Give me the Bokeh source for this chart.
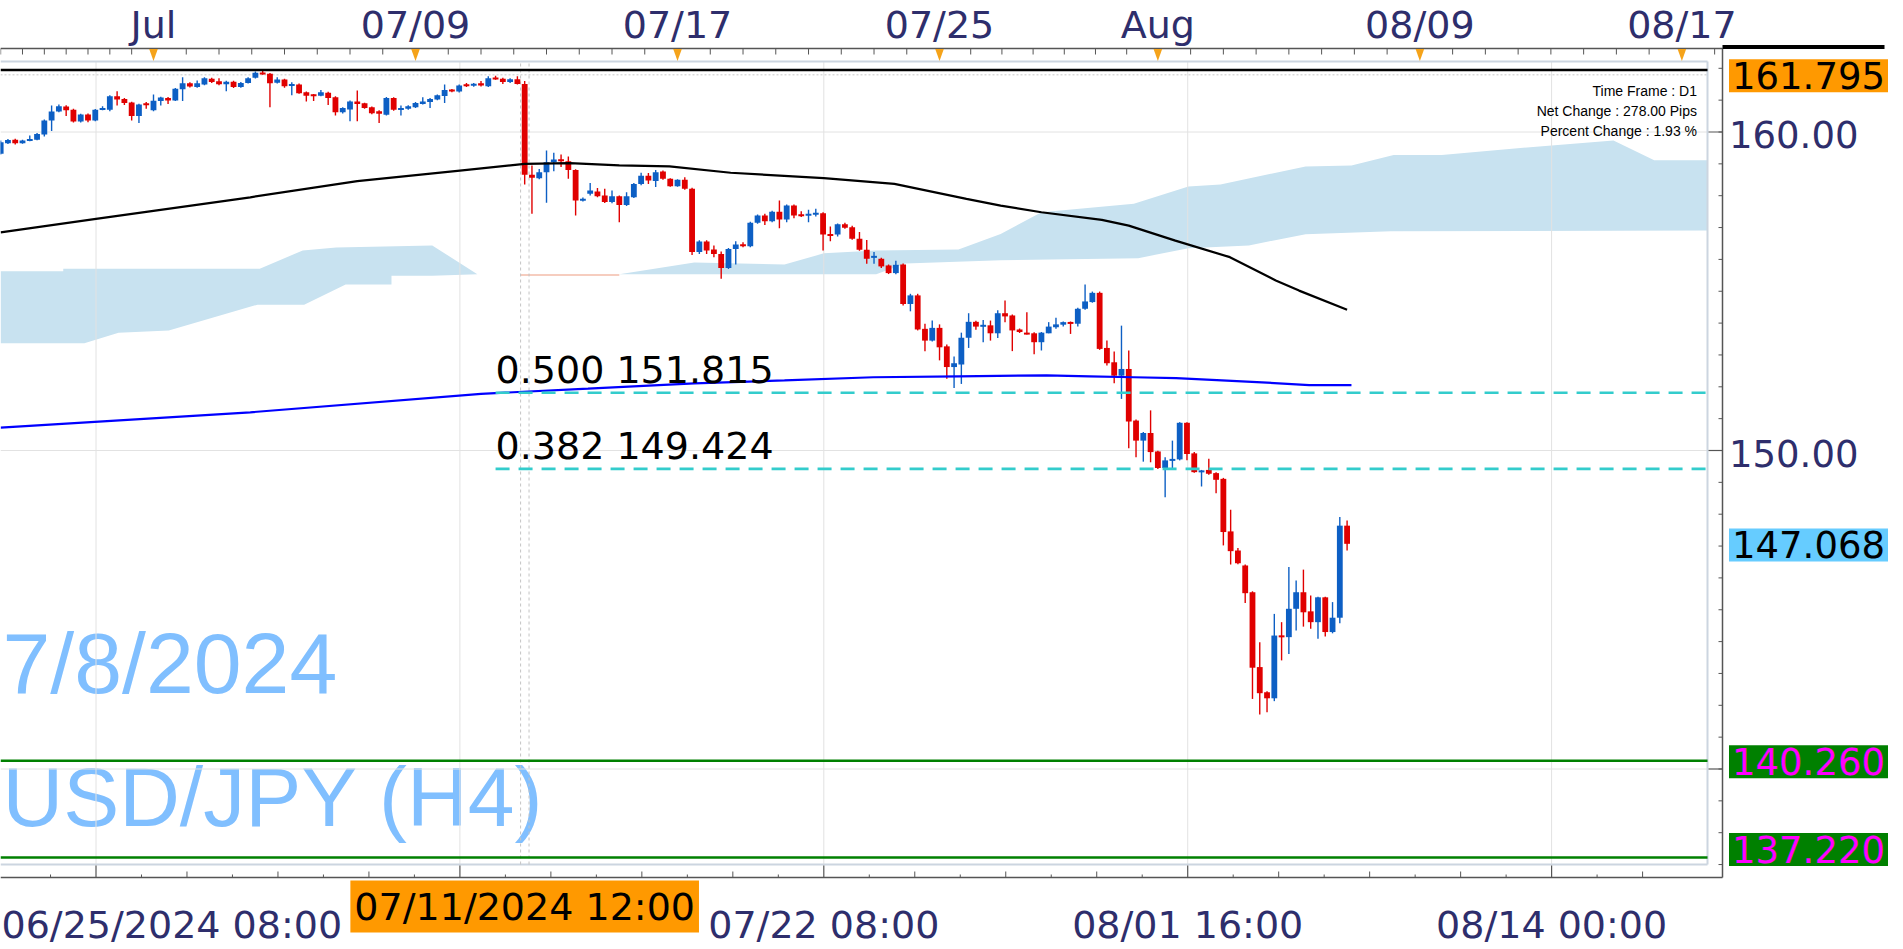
import numpy as np
from bokeh.plotting import figure
from bokeh.models import Range1d, Label, ColumnDataSource
from bokeh.embed import file_html
from bokeh.resources import INLINE

# ---------------- data ----------------
start_index = -21          # bar index of first candle (index 0 = Jul 1 00:00, H4 bars)
opens = [159.32, 159.65, 159.76, 159.65, 159.73, 159.76, 159.92, 160.36, 160.64, 160.80, 160.70, 160.33, 160.55, 160.36, 160.70, 160.70, 161.12, 161.04, 160.93, 160.50, 160.89,
         160.68, 160.97, 161.07, 160.99, 161.34, 161.53, 161.41, 161.49, 161.67, 161.59,
         161.50, 161.58, 161.41, 161.54, 161.70, 161.86, 161.83, 161.55, 161.65, 161.46,
         161.49, 161.25, 161.17, 161.14, 161.23, 161.09, 160.62, 160.71, 160.96, 160.90,
         160.78, 160.65, 160.54, 161.07, 160.70, 160.73, 160.78, 160.88, 160.94, 161.02,
         161.13, 161.32, 161.27, 161.48, 161.46, 161.53, 161.44, 161.69, 161.67, 161.57,
         161.66, 161.51, 158.66, 158.55, 158.74, 159.05, 159.14, 159.08, 158.81, 157.85,
         158.06, 158.13, 158.01, 157.80, 157.98, 157.71, 157.95, 158.37, 158.63, 158.46,
         158.76, 158.53, 158.30, 158.50, 158.22, 156.23, 156.56, 156.31, 156.17, 155.73,
         156.33, 156.46, 156.41, 157.15, 157.38, 157.20, 157.50, 157.25, 157.69, 157.41,
         157.38, 157.41, 157.45, 156.78, 156.78, 157.10, 157.01, 156.65, 156.30, 156.05,
         156.02, 155.81, 155.57, 155.84, 154.60, 154.87, 153.82, 153.45, 153.85, 153.27,
         152.62, 152.70, 153.54, 154.04, 153.90, 153.93, 153.68, 154.31, 154.24, 153.80,
         153.68, 153.68, 153.40, 153.68, 153.87, 153.95, 154.03, 153.98, 154.45, 154.66,
         154.95, 153.22, 152.77, 152.35, 152.56, 150.94, 150.31, 150.55, 149.97, 149.45,
         149.69, 149.72, 150.87, 149.91, 149.32, 149.39, 149.29, 149.11, 147.46, 146.86,
         146.39, 145.55, 143.20, 142.41, 142.22, 144.19, 144.14, 145.03, 145.55, 144.95,
         144.61, 145.39, 144.30, 144.75, 147.64]
highs = [159.73, 159.78, 159.79, 159.76, 159.89, 159.97, 160.39, 160.83, 160.86, 160.84, 160.73, 160.57, 160.58, 160.72, 160.81, 161.15, 161.28, 161.07, 160.95, 160.89, 160.94,
         161.18, 161.11, 161.10, 161.38, 161.72, 161.56, 161.62, 161.72, 161.70, 161.69,
         161.61, 161.61, 161.57, 161.72, 161.90, 161.93, 161.85, 161.72, 161.67, 161.56,
         161.52, 161.27, 161.19, 161.32, 161.26, 161.12, 160.78, 160.99, 161.30, 160.92,
         160.80, 160.68, 161.10, 161.09, 160.83, 160.84, 160.94, 161.09, 161.07, 161.18,
         161.49, 161.35, 161.49, 161.54, 161.54, 161.60, 161.75, 161.77, 161.70, 161.69,
         161.75, 161.60, 158.95, 158.84, 159.42, 159.35, 159.29, 159.23, 158.83, 157.94,
         158.40, 158.24, 158.22, 158.16, 158.01, 158.11, 158.40, 158.72, 158.71, 158.81,
         158.79, 158.55, 158.52, 158.58, 158.25, 156.60, 156.60, 156.44, 156.25, 156.36,
         156.57, 156.54, 157.18, 157.41, 157.43, 157.53, 157.85, 157.72, 157.72, 157.51,
         157.56, 157.59, 157.48, 157.03, 157.13, 157.15, 157.06, 156.86, 156.61, 156.23,
         156.05, 155.84, 155.96, 155.87, 154.92, 154.92, 153.98, 154.08, 153.96, 153.33,
         152.95, 153.70, 154.31, 154.07, 154.10, 154.08, 154.40, 154.71, 154.27, 153.83,
         154.34, 153.71, 153.72, 154.03, 154.17, 154.05, 154.05, 154.48, 155.21, 154.99,
         154.99, 153.45, 153.11, 153.92, 153.14, 150.97, 150.58, 151.26, 149.99, 149.79,
         150.31, 150.89, 150.89, 149.95, 149.39, 149.74, 149.32, 149.14, 148.14, 146.94,
         146.42, 145.58, 143.98, 142.44, 144.87, 144.61, 146.34, 145.92, 146.26, 145.45,
         145.41, 145.41, 145.24, 147.91, 147.80]
lows = [159.29, 159.62, 159.61, 159.63, 159.71, 159.74, 159.86, 160.03, 160.62, 160.50, 160.30, 160.30, 160.31, 160.34, 160.68, 160.65, 160.83, 160.85, 160.36, 160.28, 160.73,
        160.65, 160.83, 160.88, 160.97, 160.97, 161.40, 161.39, 161.47, 161.54, 161.47,
        161.28, 161.38, 161.39, 161.52, 161.68, 161.80, 160.78, 161.52, 161.39, 161.15,
        161.20, 160.96, 160.97, 161.12, 160.85, 160.52, 160.58, 160.34, 160.34, 160.73,
        160.56, 160.28, 160.52, 160.67, 160.52, 160.70, 160.75, 160.86, 160.75, 161.00,
        160.91, 161.25, 161.24, 161.41, 161.42, 161.43, 161.41, 161.64, 161.51, 161.54,
        161.49, 158.35, 157.43, 158.52, 157.78, 158.77, 158.90, 158.53, 157.38, 157.82,
        158.01, 157.95, 157.77, 157.76, 157.17, 157.68, 157.93, 158.33, 158.37, 158.27,
        158.50, 158.28, 158.28, 158.19, 156.14, 156.17, 156.17, 156.07, 155.39, 155.70,
        155.84, 156.38, 156.38, 157.12, 157.08, 157.17, 156.98, 157.17, 157.29, 157.33,
        157.17, 157.35, 156.28, 156.57, 156.72, 156.96, 156.62, 156.27, 155.86, 155.86,
        155.73, 155.54, 155.53, 154.55, 154.37, 153.77, 153.12, 153.42, 152.83, 152.25,
        151.96, 152.09, 153.22, 153.79, 153.40, 153.45, 153.53, 154.03, 153.12, 153.69,
        153.64, 153.02, 153.14, 153.68, 153.82, 153.89, 153.66, 153.89, 154.42, 154.64,
        153.16, 152.67, 152.11, 151.62, 150.07, 149.79, 149.65, 149.63, 149.42, 148.53,
        149.45, 149.69, 149.69, 149.30, 148.87, 149.24, 148.66, 147.02, 146.42, 146.43,
        145.21, 142.20, 141.71, 141.78, 142.13, 143.41, 143.61, 144.35, 144.47, 144.40,
        144.09, 144.16, 144.26, 144.58, 146.86]
closes = [159.68, 159.75, 159.65, 159.73, 159.77, 159.94, 160.36, 160.64, 160.81, 160.68, 160.33, 160.55, 160.36, 160.70, 160.75, 161.12, 161.02, 160.91, 160.50, 160.86, 160.85,
          160.98, 161.08, 160.99, 161.36, 161.53, 161.43, 161.53, 161.69, 161.57, 161.50,
          161.58, 161.41, 161.54, 161.69, 161.86, 161.82, 161.53, 161.65, 161.44, 161.49,
          161.22, 161.14, 161.14, 161.25, 161.07, 160.62, 160.75, 160.96, 160.88, 160.75,
          160.59, 160.57, 161.07, 160.70, 160.75, 160.81, 160.91, 160.96, 161.04, 161.15,
          161.32, 161.28, 161.46, 161.46, 161.51, 161.46, 161.69, 161.67, 161.57, 161.66,
          161.51, 158.66, 158.56, 158.74, 159.05, 159.14, 159.08, 158.81, 157.85, 157.90,
          158.16, 157.98, 157.80, 157.98, 157.71, 157.98, 158.37, 158.63, 158.48, 158.74,
          158.53, 158.30, 158.50, 158.22, 156.23, 156.56, 156.28, 156.17, 155.73, 156.33,
          156.47, 156.43, 157.15, 157.38, 157.20, 157.50, 157.25, 157.69, 157.38, 157.36,
          157.43, 157.45, 156.78, 156.75, 157.10, 156.99, 156.65, 156.30, 156.02, 156.11,
          155.78, 155.57, 155.83, 154.60, 154.87, 153.80, 153.45, 153.85, 153.24, 152.62,
          152.74, 153.54, 154.04, 153.89, 153.93, 153.68, 154.31, 154.21, 153.77, 153.72,
          153.66, 153.40, 153.70, 153.89, 153.96, 154.03, 153.98, 154.45, 154.68, 154.95,
          153.19, 152.74, 152.35, 152.56, 150.91, 150.31, 150.55, 149.95, 149.45, 149.69,
          149.72, 150.87, 149.89, 149.32, 149.37, 149.27, 149.08, 147.44, 146.84, 146.46,
          145.52, 143.18, 142.38, 142.22, 144.19, 144.14, 145.03, 145.55, 144.92, 144.61,
          145.39, 144.30, 144.75, 147.64, 147.07]

# moving averages (knots)
ma_black_x = [-21.0, -7.9, 13.3, 28.0, 42.1, 51.0, 57.2, 64.0, 70.9, 79.3, 92.1, 101.8, 111.7, 116.4, 122.0, 130.3, 134.0, 140.4, 147.9, 151.1, 154.2, 157.4, 164.0]
ma_black_y = [156.85, 157.27, 157.95, 158.46, 158.79, 159.00, 159.02, 158.95, 158.92, 158.72, 158.55, 158.37, 157.90, 157.69, 157.48, 157.24, 157.06, 156.59, 156.07, 155.70, 155.34, 155.02, 154.42]
ma_blue_x = [-21.0, 13.3, 45.0, 59.7, 74.3, 86.7, 98.9, 110.6, 122.7, 128.6, 134.7, 140.5, 146.1, 152.3, 158.8, 164.6]
ma_blue_y = [150.72, 151.20, 151.78, 151.94, 152.11, 152.20, 152.30, 152.33, 152.36, 152.33, 152.30, 152.27, 152.21, 152.14, 152.05, 152.05]

# ichimoku cloud edges
cloud_top_x = [-21.0, -12.4, -12.4, 14.6, 20.5, 25.1, 38.3, 44.5, 64.0, 74.3, 86.7, 92.1, 99.3, 110.6, 116.4, 122.0, 134.7, 142.2, 146.6, 158.3, 164.6, 170.4, 177.0, 192.1, 200.6, 206.2, 213.5]
cloud_top_y = [155.63, 155.63, 155.71, 155.71, 156.28, 156.37, 156.44, 155.53, 155.53, 155.90, 155.84, 156.19, 156.28, 156.31, 156.80, 157.48, 157.75, 158.29, 158.35, 158.92, 158.95, 159.28, 159.28, 159.58, 159.73, 159.11, 159.11]
cloud_bot_x = [-21.0, -9.5, -4.8, 2.1, 14.3, 20.7, 26.4, 32.7, 32.7, 38.3, 44.5, 99.3, 103.3, 116.4, 135.3, 142.2, 150.5, 158.3, 170.0, 213.5]
cloud_bot_y = [153.37, 153.37, 153.70, 153.77, 154.58, 154.58, 155.21, 155.21, 155.49, 155.49, 155.53, 155.53, 155.87, 155.97, 156.04, 156.35, 156.44, 156.79, 156.88, 156.91]
sliver_x = [50.4, 64.0]
sliver_y = [155.51, 155.51]

# fibonacci retracement
fib_high = 161.948
fib_start = 47.0
fib_levels = [151.815, 149.424]
fib_labels = ["0.500 151.815", "0.382 149.424"]

# horizontal price markers
green_levels = [140.260, 137.220]
dotted_level = 161.795
marker_prices = [161.795, 147.068, 140.260, 137.220]
marker_texts = ["161.795", "147.068", "140.260", "137.220"]
marker_bg = ["#ff9900", "#66ccff", "#008000", "#008000"]
marker_fg = ["#000000", "#000000", "#ff00ff", "#ff00ff"]

# axes
price_ticks = [150, 160]
price_tick_labels = ["150.00", "160.00"]
top_ticks = [0, 36, 72, 108, 138, 174, 210]
top_labels = ["Jul", "07/09", "07/17", "07/25", "Aug", "08/09", "08/17"]
grid_x = [-7.9, 42.1, 92.1, 142.1, 192.1]
grid_y = [140, 150, 160]
bottom_labels = ["06/25/2024 08:00", "", "07/22 08:00", "08/01 16:00", "08/14 00:00"]
cross_index = 51
cross_label = "07/11/2024 12:00"
info_lines = ["Time Frame : D1", "Net Change : 278.00 Pips", "Percent Change : 1.93 %"]
watermark = ["7/8/2024", "USD/JPY (H4)"]

# ---------------- layout calibration (pixels of the picture) ----------------
W, H = 1903, 949
BAR_PX = 7.278
X0_PX = 153.0
YEN_PX = 31.85
Y160_PX = 131.5

def rx(px):
    return (px - X0_PX) / BAR_PX

def ry(py):
    return 160.0 - (py - Y160_PX) / YEN_PX

AX_R, AX_T, AX_B = 1722, 48, 877          # axis lines
INNER_R, INNER_T, INNER_B = 1707, 61, 864  # light inner frame
LEFT = rx(0)

NAVY = "#2e2e6c"
BLUE = "#0d5fc4"
RED = "#e00000"
AXIS_C = "#555555"
WM_FONT = "Liberation Sans"

p = figure(width=W, height=H,
           x_range=Range1d(rx(0), rx(W)), y_range=Range1d(ry(H), ry(0)),
           x_axis_type=None, y_axis_type=None,
           toolbar_location=None, output_backend="svg", min_border=0)
p.min_border_left = p.min_border_right = p.min_border_top = p.min_border_bottom = 0
p.outline_line_color = None
p.background_fill_color = "white"
p.border_fill_color = "white"

# watermark
p.add_layout(Label(x=rx(2), y=ry(662), text=watermark[0], text_align="left", text_baseline="middle",
                   text_font=WM_FONT, text_font_size="86px", text_color="#80bfff", level="underlay"))
p.add_layout(Label(x=rx(2), y=ry(796), text=watermark[1], text_align="left", text_baseline="middle",
                   text_font=WM_FONT, text_font_size="84px", text_color="#80bfff", level="underlay"))

# cloud
cx = cloud_top_x + cloud_bot_x[::-1]
cy = cloud_top_y + cloud_bot_y[::-1]
p.patch(cx, cy, fill_color="#c8e2f0", line_color=None)
p.line(sliver_x, sliver_y, line_color="#f6cdbf", line_width=2)

# grid
gy0, gy1 = ry(INNER_B), ry(INNER_T)
p.segment(x0=grid_x, y0=[gy0] * len(grid_x), x1=grid_x, y1=[gy1] * len(grid_x), line_color="#e2e2e2", line_width=1)
p.segment(x0=[LEFT] * len(grid_y), y0=grid_y, x1=[rx(INNER_R)] * len(grid_y), y1=grid_y,
          line_color="#e2e2e2", line_width=1)

# inner frame border
p.segment(x0=[LEFT, rx(INNER_R), LEFT], y0=[ry(INNER_T), ry(INNER_T), ry(INNER_B)],
          x1=[rx(INNER_R), rx(INNER_R), rx(INNER_R)], y1=[ry(INNER_T), ry(INNER_B), ry(INNER_B)],
          line_color="#ccd5e0", line_width=2)

# ---- axes (lines and ticks) ----
p.segment(x0=[LEFT, rx(AX_R), LEFT], y0=[ry(AX_T), ry(AX_T), ry(AX_B)],
          x1=[rx(AX_R), rx(AX_R), rx(AX_R)], y1=[ry(AX_T), ry(AX_B), ry(AX_B)],
          line_color=AXIS_C, line_width=1.5)
p.line([rx(AX_R), rx(1884)], [ry(46.5), ry(46.5)], line_color="black", line_width=4)

# top ticks
top_minor = []
t = -3
while t > LEFT:
    top_minor.append(t)
    t -= 3
for a, b in zip(top_ticks[:-1], top_ticks[1:]):
    n = max(1, round((b - a) / 4.5))
    top_minor += [a + (b - a) * j / n for j in range(1, n)]
top_minor += [top_ticks[-1] + 4.5]
p.segment(x0=top_minor, y0=[ry(AX_T)] * len(top_minor), x1=top_minor, y1=[ry(AX_T + 6)] * len(top_minor),
          line_color=AXIS_C, line_width=1)

# bottom ticks
bmed = [grid_x[0] + 12.5 * k for k in range(0, 18)]
bmed = [b for b in bmed if b < rx(INNER_R) and all(abs(b - g) > 0.1 for g in grid_x)]
bsmall = [grid_x[0] - 6.25] + [grid_x[0] + 6.25 + 12.5 * k for k in range(0, 17)]
bsmall = [s for s in bsmall if LEFT < s < rx(INNER_R)]
p.segment(x0=grid_x, y0=[ry(AX_B)] * len(grid_x), x1=grid_x, y1=[ry(AX_B - 12)] * len(grid_x),
          line_color=AXIS_C, line_width=1.2)
p.segment(x0=bmed, y0=[ry(AX_B)] * len(bmed), x1=bmed, y1=[ry(AX_B - 6)] * len(bmed),
          line_color=AXIS_C, line_width=1)
p.segment(x0=bsmall, y0=[ry(AX_B)] * len(bsmall), x1=bsmall, y1=[ry(AX_B - 3)] * len(bsmall),
          line_color=AXIS_C, line_width=1)

# right ticks
rminor = list(range(137, 163))
p.segment(x0=[rx(AX_R - 14)] * len(grid_y), y0=grid_y, x1=[rx(AX_R)] * len(grid_y), y1=grid_y,
          line_color=AXIS_C, line_width=1.2)
p.segment(x0=[rx(AX_R - 4)] * len(rminor), y0=rminor, x1=[rx(AX_R)] * len(rminor), y1=rminor,
          line_color=AXIS_C, line_width=1)

# crosshair
cxs = [cross_index - 0.56, cross_index + 0.6]
p.segment(x0=cxs, y0=[gy0] * 2, x1=cxs, y1=[gy1] * 2, line_color="#c4c4c4", line_width=1, line_dash="3 3")

# dotted price line
p.line([LEFT, rx(INNER_R)], [dotted_level, dotted_level], line_color="#c8c8c8", line_width=1, line_dash="2 2")

# candles
idx = np.arange(start_index, start_index + len(opens))
o = np.array(opens); c = np.array(closes)
up = c >= o
colors = np.where(up, BLUE, RED).tolist()
tb = np.maximum(o, c); bb = np.minimum(o, c)
min_h = 2.0 / YEN_PX
mid = (tb + bb) / 2
thin = (tb - bb) < min_h
tb = np.where(thin, mid + min_h / 2, tb)
bb = np.where(thin, mid - min_h / 2, bb)
src = ColumnDataSource(dict(x=idx, h=highs, l=lows, top=tb, bottom=bb, color=colors))
p.segment(x0="x", y0="l", x1="x", y1="h", source=src, line_color="color", line_width=1.4)
p.vbar(x="x", width=0.8, top="top", bottom="bottom", source=src, fill_color="color", line_color=None)

# moving averages
p.line(ma_black_x, ma_black_y, line_color="black", line_width=2.2)
p.line(ma_blue_x, ma_blue_y, line_color="#0000ff", line_width=2.2)

# fib lines
p.segment(x0=[fib_start] * len(fib_levels), y0=fib_levels, x1=[rx(INNER_R)] * len(fib_levels), y1=fib_levels,
          line_color="#33cccc", line_width=2.6, line_dash="14 9")
p.line([LEFT, rx(INNER_R)], [fib_high, fib_high], line_color="black", line_width=2.6)

# green levels
p.segment(x0=[LEFT] * 2, y0=green_levels, x1=[rx(INNER_R)] * 2, y1=green_levels,
          line_color="#008000", line_width=2.6)

# top triangles
hw = 4.3 / BAR_PX
p.patches(xs=[[t - hw, t + hw, t] for t in top_ticks],
          ys=[[ry(48.5), ry(48.5), ry(60.5)] for _ in top_ticks], fill_color="#f5a31a", line_color=None)

# fib labels (digit centre 22.5 px above the level)
for lv, tx in zip(fib_levels, fib_labels):
    p.add_layout(Label(x=fib_start, y=lv + 22.5 / YEN_PX, text=tx, text_align="left", text_baseline="middle",
                       text_font="DejaVu Sans", text_font_size="38px", text_color="black"))

# info box
for k, tx in enumerate(info_lines):
    p.add_layout(Label(x=rx(1696.5), y=ry(90.5 + 20 * k), text=tx, text_align="right", text_baseline="middle",
                       text_font="Liberation Sans", text_font_size="14px", text_color="black"))

# top axis labels
for t, tx in zip(top_ticks, top_labels):
    p.add_layout(Label(x=t, y=ry(24), text=tx, text_align="center", text_baseline="middle",
                       text_font="DejaVu Sans", text_font_size="38px", text_color=NAVY))

# bottom axis labels
for k, (g, tx) in enumerate(zip(grid_x, bottom_labels)):
    if not tx:
        continue
    if k == 0:
        p.add_layout(Label(x=rx(1), y=ry(924), text=tx, text_align="left", text_baseline="middle",
                           text_font="DejaVu Sans", text_font_size="38px", text_color=NAVY))
    else:
        p.add_layout(Label(x=g, y=ry(924), text=tx, text_align="center", text_baseline="middle",
                           text_font="DejaVu Sans", text_font_size="38px", text_color=NAVY))
p.add_layout(Label(x=cross_index, y=ry(906), text=cross_label, text_align="center", text_baseline="middle",
                   text_font="DejaVu Sans", text_font_size="38px", text_color="black",
                   background_fill_color="#ff9900", padding=4))

# right axis labels
for v, tx in zip(price_ticks, price_tick_labels):
    p.add_layout(Label(x=rx(1728.5), y=v - 2.5 / YEN_PX, text=tx, text_align="left", text_baseline="middle",
                       text_font="DejaVu Sans", text_font_size="37px", text_color=NAVY))
for v, tx, bg, fg in zip(marker_prices, marker_texts, marker_bg, marker_fg):
    yy = v - 1.0 / YEN_PX
    if tx == "137.220":
        yy = ry(849)
    p.add_layout(Label(x=rx(1728.5), y=yy, text=tx, text_align="left", text_baseline="middle",
                       text_font="DejaVu Sans", text_font_size="37px", text_color=fg,
                       background_fill_color=bg, padding=3))

open("out.html", "w").write(file_html(p, INLINE))
